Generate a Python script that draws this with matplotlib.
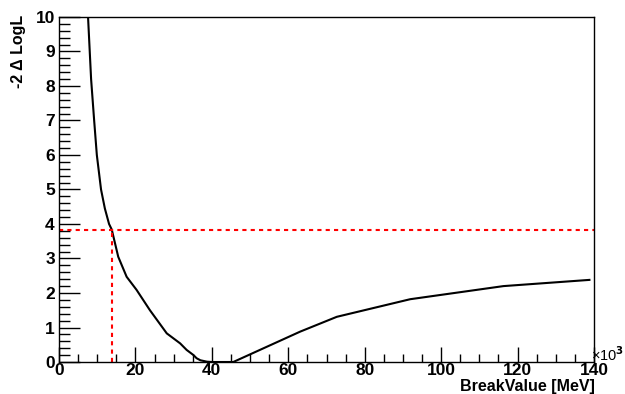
import numpy as np
import matplotlib
matplotlib.use("Agg")
import matplotlib.pyplot as plt
from matplotlib.ticker import MultipleLocator

plt.rcParams['font.family'] = ['Liberation Sans', 'DejaVu Sans']
plt.rcParams['font.weight'] = 'bold'

# --- profile likelihood scan (x in units of 10^3 MeV) ---
break_value = [7.6, 8.4, 9.2, 9.9, 11.0, 12.0, 13.1, 13.8, 15.5, 17.7, 20.3,
               23.8, 28.2, 31.7, 33.4, 35.2, 36.0, 37.0, 38.7, 40.0, 45.6,
               63.1, 72.7, 91.9, 116.3, 138.8]
delta_logl = [10.0, 8.2, 7.0, 6.0, 5.0, 4.45, 4.0, 3.84, 3.05, 2.47, 2.09,
              1.5, 0.83, 0.54, 0.35, 0.2, 0.11, 0.05, 0.01, 0.0, 0.0,
              0.88, 1.31, 1.82, 2.2, 2.38]

# 95% CL threshold and crossing point
threshold = 3.84
crossing = 13.8

fig = plt.figure(figsize=(6.25, 3.94), dpi=100)
ax = fig.add_axes([0.0944, 0.0812, 0.856, 0.8757])

ax.plot(break_value, delta_logl, color='black', lw=1.5, clip_on=True)
ax.plot([0, 140], [threshold, threshold], color='red', lw=1.5, ls=(0, (2, 2)))
ax.plot([crossing, crossing], [0, threshold], color='red', lw=1.5, ls=(0, (2, 2)))

ax.set_xlim(0, 140)
ax.set_ylim(0, 10)

ax.xaxis.set_major_locator(MultipleLocator(20))
ax.xaxis.set_minor_locator(MultipleLocator(5))
ax.yaxis.set_major_locator(MultipleLocator(1))
ax.yaxis.set_minor_locator(MultipleLocator(0.2))

ax.tick_params(axis='both', which='both', direction='in', top=False, right=False,
               labelsize=12.5, width=1)
ax.tick_params(axis='y', which='major', length=15, pad=3)
ax.tick_params(axis='y', which='minor', length=8)
ax.tick_params(axis='x', which='major', length=11, pad=1)
ax.tick_params(axis='x', which='minor', length=6)
for lab in ax.get_xticklabels() + ax.get_yticklabels():
    lab.set_fontweight('bold')

for s in ax.spines.values():
    s.set_linewidth(1)

fig.text(0.951, 0.018, 'BreakValue [MeV]', ha='right', va='center',
         fontsize=11.5, fontweight='bold')
fig.text(0.03, 0.962, '-2 \u0394 LogL', ha='center', va='top', rotation=90,
         fontsize=11.5, fontweight='bold')
fig.text(0.9985, 0.1, '\u00d710$^3$', ha='right', va='center', fontsize=10.5,
         fontweight='normal')

fig.savefig('out.png', dpi=100)
